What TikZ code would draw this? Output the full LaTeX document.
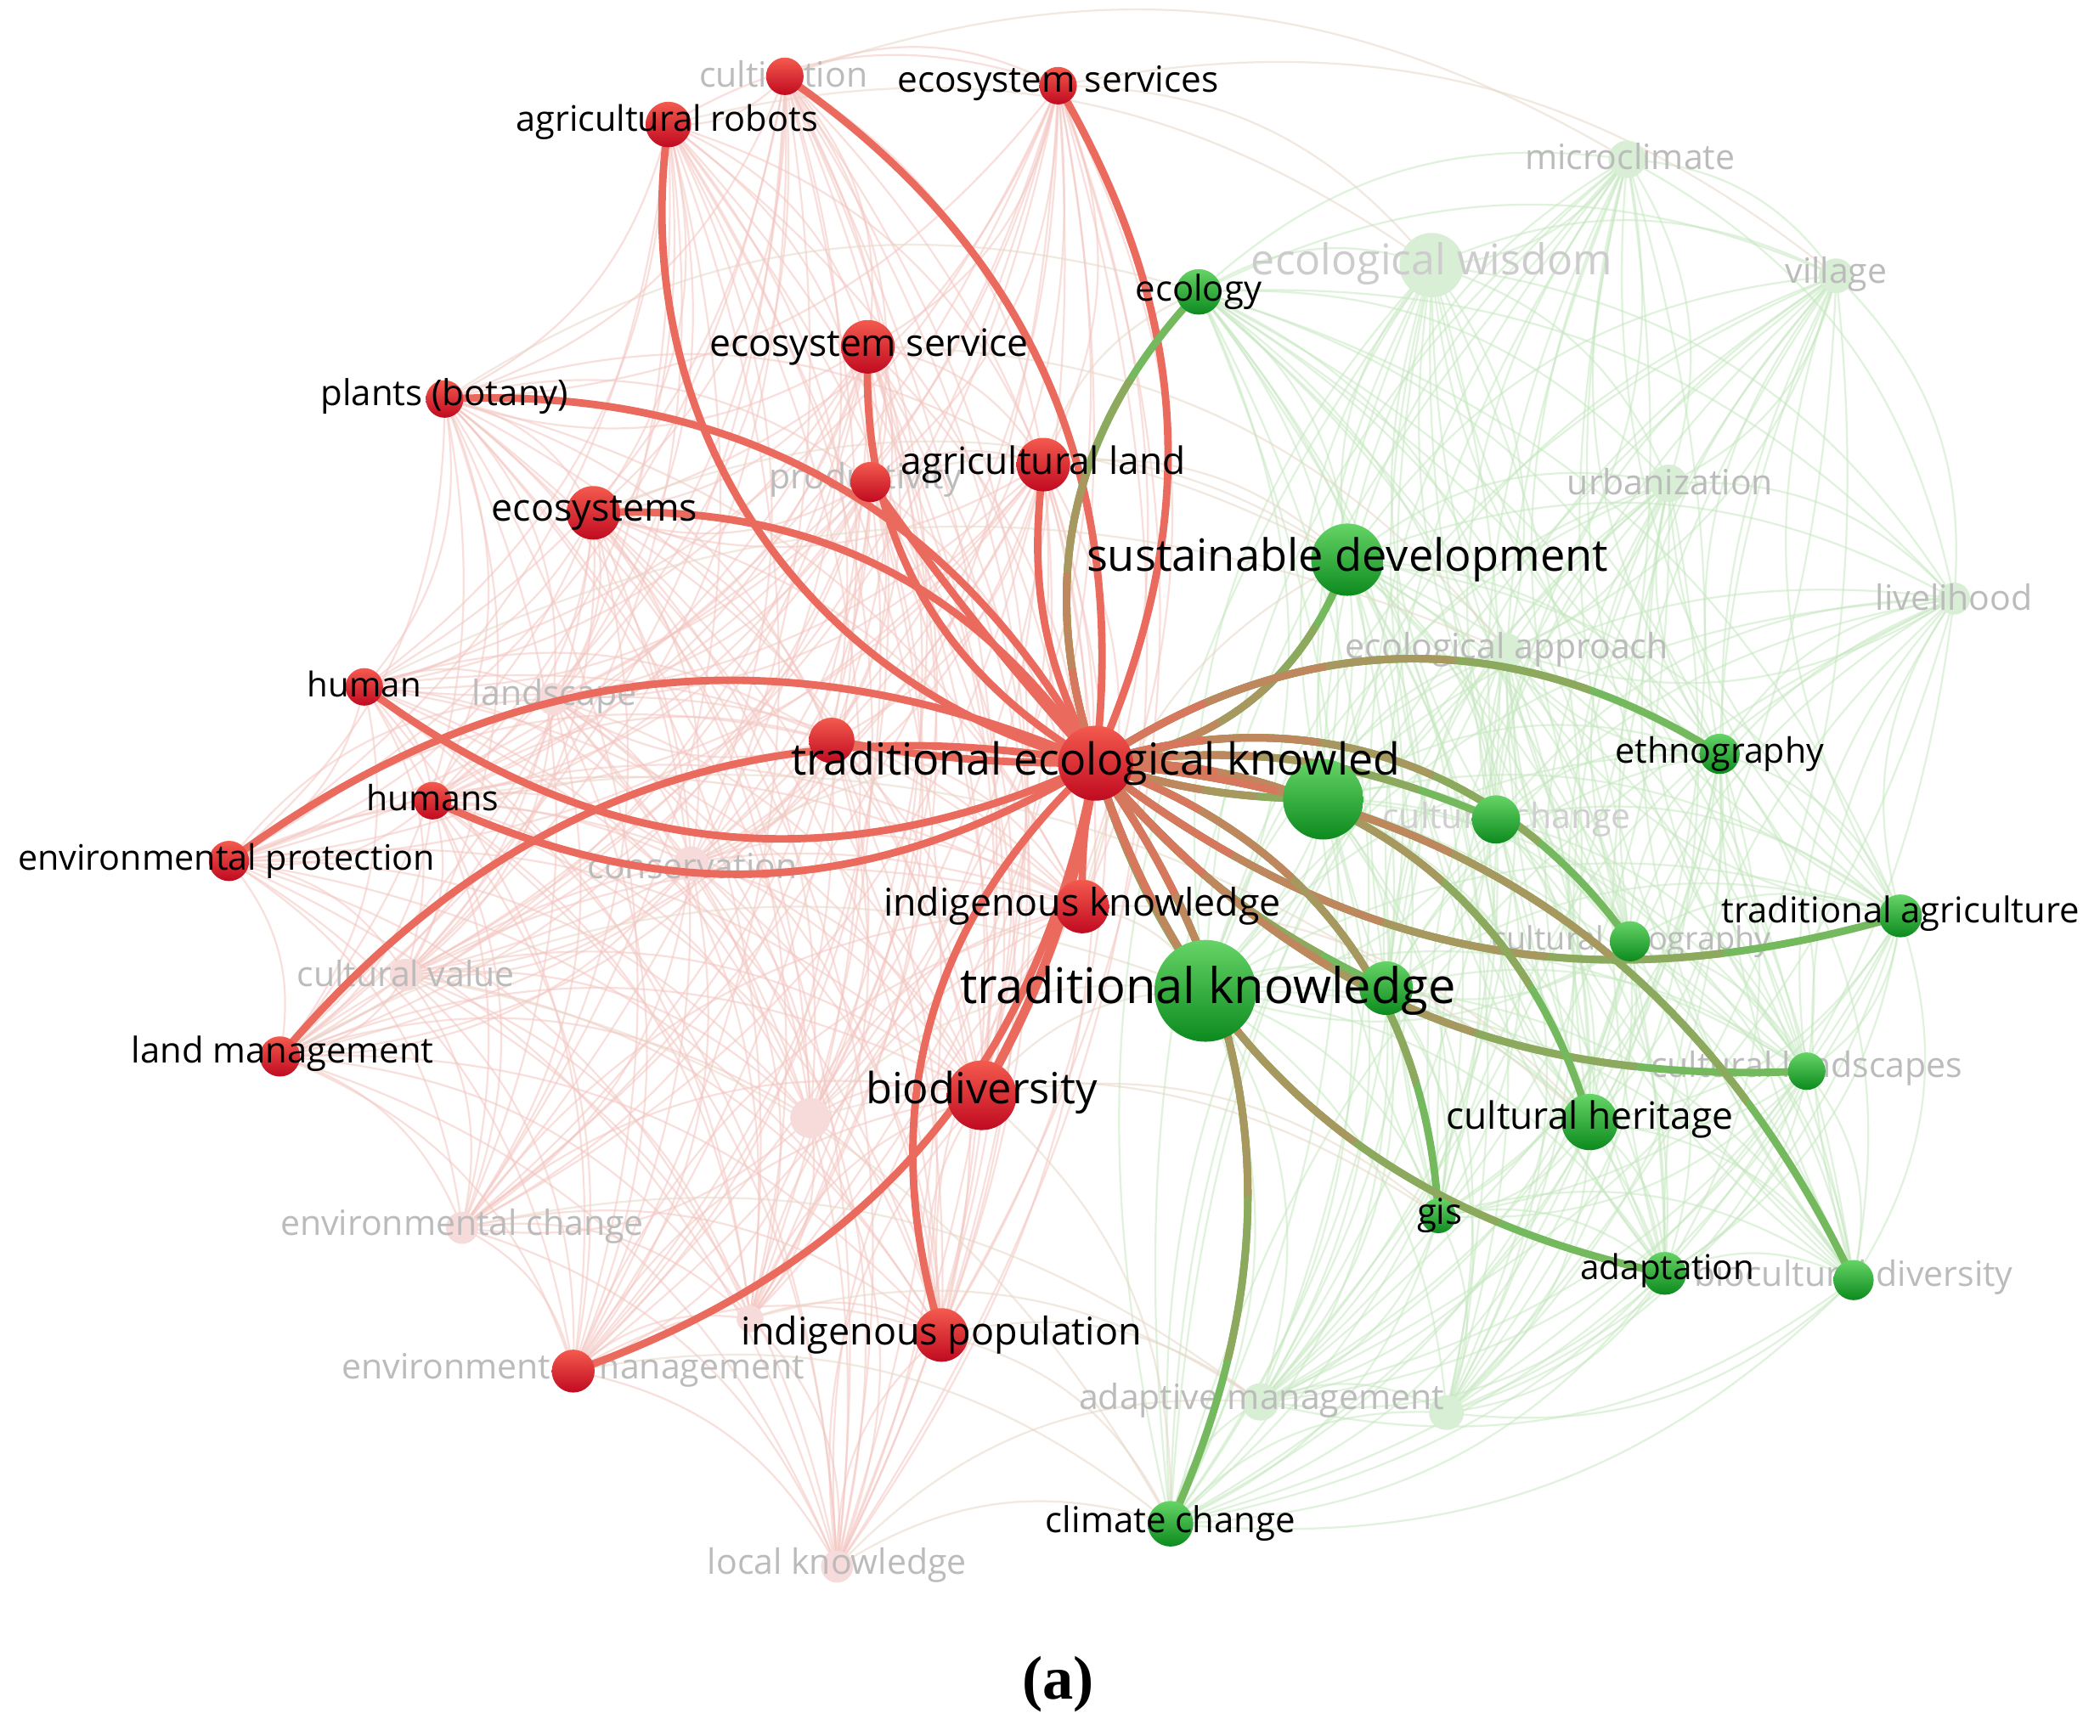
\documentclass[tikz,border=0pt]{standalone}
\usepackage{fontspec}
\setmainfont{Open Sans}
\newfontfamily\capfont{Liberation Serif}
\definecolor{redE}{HTML}{EA6A5E}
\definecolor{greenE}{HTML}{6EBE5E}
\definecolor{redTop}{HTML}{F45A4E}
\definecolor{redBot}{HTML}{C00A20}
\definecolor{greenTop}{HTML}{66D466}
\definecolor{greenBot}{HTML}{0C8A1E}
\definecolor{fadeRed}{HTML}{F7DADA}
\definecolor{fadeGreen}{HTML}{D8EFD6}
\definecolor{faintRed}{HTML}{F4C6C1}
\definecolor{faintGreen}{HTML}{C6E8C0}
\definecolor{faintTan}{HTML}{E6D6C6}
\definecolor{labgray}{HTML}{BBBBBB}
\pgfdeclarelayer{paper}
\pgfdeclarelayer{faint}
\pgfdeclarelayer{fadenodes}
\pgfdeclarelayer{fadelabels}
\pgfdeclarelayer{bright}
\pgfdeclarelayer{toplabels}
\pgfsetlayers{paper,faint,fadenodes,fadelabels,bright,main,toplabels}
\makeatletter
% curved link from node #2 to node #3, bent by angle #4 (positive = to the left)
\newcommand\curvelink[4]{%
  \pgfmathsetmacro\clF{0.3915*cos(#4)}%
  \pgfmathsetmacro\clK{0.3915*sin(#4)}%
  \pgfpointanchor{#2}{center}%
  \pgf@xa=\pgf@x \pgf@ya=\pgf@y
  \pgfpointanchor{#3}{center}%
  \pgf@xb=\pgf@x \pgf@yb=\pgf@y
  \pgf@xc=\pgf@xb \advance\pgf@xc by -\pgf@xa
  \pgf@yc=\pgf@yb \advance\pgf@yc by -\pgf@ya
  \pgf@x=\clF\pgf@xc \advance\pgf@x by \pgf@xa \advance\pgf@x by -\clK\pgf@yc
  \pgf@y=\clF\pgf@yc \advance\pgf@y by \pgf@ya \advance\pgf@y by \clK\pgf@xc
  \edef\clAx{\the\pgf@x}\edef\clAy{\the\pgf@y}%
  \pgf@x=-\clF\pgf@xc \advance\pgf@x by \pgf@xb \advance\pgf@x by -\clK\pgf@yc
  \pgf@y=-\clF\pgf@yc \advance\pgf@y by \pgf@yb \advance\pgf@y by \clK\pgf@xc
  \edef\clBx{\the\pgf@x}\edef\clBy{\the\pgf@y}%
  \draw[#1] (#2.center) .. controls (\clAx,\clAy) and (\clBx,\clBy) .. (#3.center);}
\makeatother
% link from tek to #1 with a colour gradient (red near tek, green at #1)
\newcommand\mixlink[3]{%
  \curvelink{lkw, color=redE!6!greenE}{tek}{#1}{#2}%
  \foreach \f/\c in {0.8/25,0.6/45,0.4/65,0.2/85}{%
    \begin{scope}
      \clip (tek.center) circle [radius={\f*#3}];
      \curvelink{lkw, color=redE!\c!greenE}{tek}{#1}{#2}%
    \end{scope}}}
\begin{document}
\begin{tikzpicture}[x=1pt,y=1pt,
  rn/.style={circle, inner sep=0pt, draw=none, top color=redTop, bottom color=redBot},
  gn/.style={circle, inner sep=0pt, draw=none, top color=greenTop, bottom color=greenBot},
  fr/.style={circle, inner sep=0pt, draw=none, fill=fadeRed},
  fg/.style={circle, inner sep=0pt, draw=none, fill=fadeGreen},
  lab/.style={font=\fontsize{#1}{#1}\selectfont, inner sep=0pt, text=black},
  glab/.style={lab=#1, text=labgray},
  lkw/.style={line width=5.6pt, line cap=round},
  redlink/.style={lkw, color=redE},
  fred/.style={line width=1.4pt, color=faintRed, opacity=0.55},
  fgreen/.style={line width=1.4pt, color=faintGreen, opacity=0.55},
  ftan/.style={line width=1.4pt, color=faintTan, opacity=0.55}]
\useasboundingbox (0,0) rectangle (1568,1296);
\begin{pgfonlayer}{paper}
\fill[white] (0,0) rectangle (1568,1296);
\end{pgfonlayer}

% ---------- bright red nodes ----------
\node[rn, minimum size=28] (cult) at (586,1239) {};
\node[rn, minimum size=34] (robots) at (499,1203) {};
\node[rn, minimum size=28] (ess) at (790,1232) {};
\node[rn, minimum size=40] (es) at (648,1037) {};
\node[rn, minimum size=28] (plants) at (332,998) {};
\node[rn, minimum size=30] (prod) at (650,936) {};
\node[rn, minimum size=40] (agland) at (779,949) {};
\node[rn, minimum size=40] (ecosys) at (443,913) {};
\node[rn, minimum size=28] (human) at (272,783) {};
\node[rn, minimum size=28] (humans) at (323,698) {};
\node[rn, minimum size=30] (envprot) at (171,653) {};
\node[rn, minimum size=34] (unlA) at (621,743) {};
\node[rn, minimum size=56] (tek) at (818,726) {};
\node[rn, minimum size=40] (indk) at (808,619) {};
\node[rn, minimum size=30] (landm) at (209,507) {};
\node[rn, minimum size=52] (biod) at (733,478) {};
\node[rn, minimum size=40] (indpop) at (703,299) {};
\node[rn, minimum size=32] (envman) at (428,272) {};

% ---------- bright green nodes ----------
\node[gn, minimum size=34] (ecology) at (895,1078) {};
\node[gn, minimum size=54] (sd) at (1006,878) {};
\node[gn, minimum size=60] (g1) at (988,699) {};
\node[gn, minimum size=36] (cultch) at (1117,684) {};
\node[gn, minimum size=30] (culgeo) at (1217,593) {};
\node[gn, minimum size=76] (tk) at (900,556) {};
\node[gn, minimum size=40] (g2) at (1035,558) {};
\node[gn, minimum size=30] (ethno) at (1284,733) {};
\node[gn, minimum size=32] (tradag) at (1419,612) {};
\node[gn, minimum size=28] (cullands) at (1349,496) {};
\node[gn, minimum size=42] (culher) at (1187,458) {};
\node[gn, minimum size=26] (gis) at (1074,388) {};
\node[gn, minimum size=32] (adapt) at (1243,345) {};
\node[gn, minimum size=30] (biocult) at (1384,340) {};
\node[gn, minimum size=34] (climate) at (874,158) {};

% ---------- faded nodes ----------
\begin{pgfonlayer}{fadenodes}
\node[fr, minimum size=24] (landscape) at (413,774) {};
\node[fr, minimum size=26] (conserv) at (516,651) {};
\node[fr, minimum size=24] (culval) at (303,568) {};
\node[fr, minimum size=30] (unlB) at (605,461) {};
\node[fr, minimum size=24] (envch) at (345,379) {};
\node[fr, minimum size=24] (localk) at (625,126) {};
\node[fr, minimum size=20] (unlC) at (560,311) {};
\node[fg, minimum size=28] (micro) at (1215,1177) {};
\node[fg, minimum size=48] (ecowis) at (1069,1098) {};
\node[fg, minimum size=26] (village) at (1371,1090) {};
\node[fg, minimum size=28] (urban) at (1246,935) {};
\node[fg, minimum size=24] (liveli) at (1459,849) {};
\node[fg, minimum size=26] (ecoappr) at (1125,810) {};
\node[fg, minimum size=28] (adaptm) at (941,249) {};
\node[fg, minimum size=26] (unl4) at (1080,241) {};
\end{pgfonlayer}

% ---------- faint background links ----------
\begin{pgfonlayer}{faint}
\def\redlist{cult,robots,ess,es,plants,prod,agland,ecosys,human,humans,envprot,unlA,landscape,conserv,culval,landm,unlB,envch,envman,unlC,localk,indpop,biod,indk}
\def\greenlist{ecology,sd,g1,cultch,culgeo,tk,g2,ethno,tradag,cullands,culher,gis,adapt,biocult,climate,micro,ecowis,village,urban,liveli,ecoappr,adaptm,unl4}
\foreach \a [count=\i] in \redlist {
  \foreach \b [count=\j] in \redlist {
    \ifnum\j>\i \curvelink{fred}{\a}{\b}{25}\fi
  }
}
\foreach \a [count=\i] in \greenlist {
  \foreach \b [count=\j] in \greenlist {
    \ifnum\j>\i \curvelink{fgreen}{\a}{\b}{25}\fi
  }
}
\foreach \a/\b in {cult/micro, robots/ecowis, ess/ecowis, ess/village, plants/ecology, prod/sd, agland/ecology, agland/sd, ecosys/sd, biod/tk, biod/climate, indk/tk, indk/sd, indpop/climate, indpop/adaptm, envman/climate, localk/climate, localk/adaptm, envch/adaptm, unlB/gis, unlB/tk, conserv/g1, humans/culher, human/ecoappr, landm/tk, culval/climate, unlC/adaptm, biod/gis, indk/culher, es/ecoappr}
  {\curvelink{ftan}{\a}{\b}{25}}
\end{pgfonlayer}

% ---------- highlighted links of traditional ecological knowledge ----------
\begin{pgfonlayer}{bright}
\foreach \t/\b in {cult/-31, robots/42, ess/-27, es/31, plants/-32, prod/3, agland/17,
  ecosys/-29, human/31, humans/28, envprot/-30, unlA/5, indk/-6, landm/-30,
  indpop/-32, envman/30}
  {\curvelink{redlink}{tek}{\t}{\b}}
\curvelink{redlink, line width=6.8pt}{tek}{biod}{10}
\mixlink{ecology}{31}{360}
\mixlink{sd}{-31}{242}
\mixlink{g1}{-8}{205}
\mixlink{cultch}{15}{302}
\mixlink{culgeo}{36}{421}
\mixlink{tk}{-8}{184}
\mixlink{g2}{-12}{276}
\mixlink{ethno}{33}{466}
\mixlink{tradag}{-27}{612}
\mixlink{cullands}{-26}{579}
\mixlink{culher}{38}{456}
\mixlink{gis}{34}{424}
\mixlink{adapt}{-30}{571}
\mixlink{biocult}{30}{685}
\mixlink{climate}{30}{571}
\end{pgfonlayer}

% ---------- grey labels ----------
\begin{pgfonlayer}{fadelabels}
\node[glab=26] (cult-l) at (585,1241) {cultivation};
\node[glab=26] (prod-l) at (646,938) {productivity};
\node[glab=26] (landscape-l) at (414,776) {landscape};
\node[glab=26] (conserv-l) at (517,649) {conservation};
\node[glab=26] (culval-l) at (303,569) {cultural value};
\node[glab=26] (envch-l) at (345,380) {environmental change};
\node[glab=26] (envman-l) at (428,273) {environmental management};
\node[glab=26] (localk-l) at (625,127) {local knowledge};
\node[glab=26] (micro-l) at (1217,1179) {microclimate};
\node[glab=31.7, text=labgray!75] (ecowis-l) at (1069,1099) {ecological wisdom};
\node[glab=26] (village-l) at (1371,1091) {village};
\node[glab=26] (urban-l) at (1247,936) {urbanization};
\node[glab=26] (liveli-l) at (1459,850) {livelihood};
\node[glab=26] (ecoappr-l) at (1125,811) {ecological approach};
\node[glab=26, text=labgray!70] (cultch-l) at (1125,684) {cultural change};
\node[glab=24] (culgeo-l) at (1218,593) {cultural geography};
\node[glab=26] (cullands-l) at (1349,498) {cultural landscapes};
\node[glab=26] (biocult-l) at (1384,342) {biocultural diversity};
\node[glab=26] (adaptm-l) at (942,250) {adaptive management};
\end{pgfonlayer}

% ---------- black labels ----------
\begin{pgfonlayer}{toplabels}
\node[lab=26.3] (robots-l) at (498,1205) {agricultural robots};
\node[lab=26.9] (ess-l) at (790,1234) {ecosystem services};
\node[lab=28.2] (es-l) at (649,1037) {ecosystem service};
\node[lab=26.6] (plants-l) at (332,1000) {plants (botany)};
\node[lab=28.1] (agland-l) at (779,949) {agricultural land};
\node[lab=28.4] (ecosys-l) at (444,913) {ecosystems};
\node[lab=25.5] (human-l) at (272,785) {human};
\node[lab=26] (humans-l) at (323,700) {humans};
\node[lab=26.2] (envprot-l) at (169,653) {environmental protection};
\node[lab=32.9] (tek-l) at (818,726) {traditional ecological knowled};
\node[lab=28.4] (indk-l) at (808,619) {indigenous knowledge};
\node[lab=26.5] (landm-l) at (211,509) {land management};
\node[lab=32.1] (biod-l) at (733,480) {biodiversity};
\node[lab=28.5] (indpop-l) at (703,299) {indigenous population};
\node[lab=26.5] (ecology-l) at (895,1078) {ecology};
\node[lab=33.2] (sd-l) at (1006,878) {sustainable development};
\node[lab=36.7] (tk-l) at (902,556) {traditional knowledge};
\node[lab=26.1] (ethno-l) at (1284,733) {ethnography};
\node[lab=26.5] (tradag-l) at (1419,614) {traditional agriculture};
\node[lab=28.1] (culher-l) at (1187,460) {cultural heritage};
\node[lab=26.6] (gis-l) at (1075,388) {gis};
\node[lab=25.6] (adapt-l) at (1245,347) {adaptation};
\node[lab=26.6] (climate-l) at (874,158) {climate change};
\node[font=\capfont\bfseries\fontsize{46}{46}\selectfont, inner sep=0pt] (cap) at (790,38) {(a)};
\end{pgfonlayer}
\end{tikzpicture}
\end{document}
